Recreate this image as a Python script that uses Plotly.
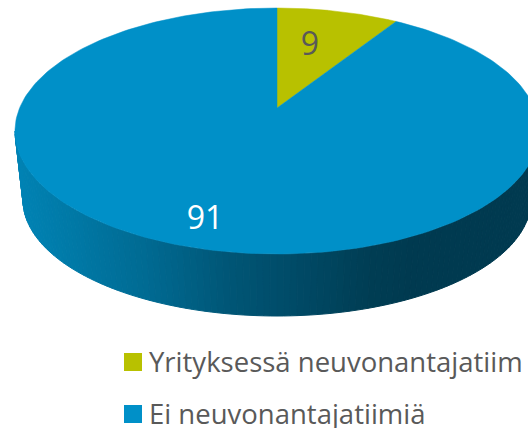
import numpy as np
import plotly.graph_objects as go

categories = ["Yrityksessä neuvonantajatiim", "Ei neuvonantajatiimiä"]
values = [9, 91]
colors = ["#B8C100", "#0090C8"]
label_colors = ["#595959", "#FFFFFF"]

W, H = 528, 428
# Perspective of the pie's top disc (pixels on the photographed page)
AX, AY = 277.0, 108.0
F, G, K = 257.4, 118.7, 0.187
# Bottom rim of the side wall
BX, BY, BRX, BRY = 277.0, 200.0, 254.0, 116.0
TY, TRX, TRY = 131.0, 262.0, 123.0


def disc(theta):
    """theta: radians clockwise from 12 o'clock."""
    u, v = np.sin(theta), np.cos(theta)
    d = 1 + K * v
    return AX + F * u / d, AY - G * v / d


def wall_color(x):
    stops_x = [15, 60, 150, 230, 300, 370, 420, 528]
    r = [0, 0, 0, 0, 0, 0, 0, 0]
    g = [132, 124, 106, 86, 74, 62, 58, 58]
    b = [182, 170, 146, 118, 102, 84, 80, 80]
    return "rgb(%d,%d,%d)" % (
        np.interp(x, stops_x, r),
        np.interp(x, stops_x, g),
        np.interp(x, stops_x, b),
    )


fig = go.Figure()

# Side wall, drawn as thin strips so the shading runs left to right
edges = np.linspace(np.pi, 0, 121)
for a, b in zip(edges[:-1], edges[1:]):
    ts = np.linspace(a, b, 4)
    tx = AX + TRX * np.cos(ts)
    ty = TY + TRY * np.sin(ts)
    bx = BX + BRX * np.cos(ts)
    by = BY + BRY * np.sin(ts)
    xs = np.r_[tx, bx[::-1], tx[0]]
    ys = np.r_[ty, by[::-1], ty[0]]
    c = wall_color(xs.mean())
    fig.add_trace(go.Scatter(x=xs, y=ys, mode="lines", fill="toself", fillcolor=c,
                             line=dict(color=c, width=1), hoverinfo="skip", showlegend=False))

# Top face: one wedge per value
total = sum(values)
start = 0.0
for name, val, col in zip(categories, values, colors):
    sweep = 2 * np.pi * val / total
    th = np.linspace(start, start + sweep, 240)
    px, py = disc(th)
    fig.add_trace(go.Scatter(x=np.r_[AX, px, AX], y=np.r_[AY, py, AY], mode="lines", fill="toself",
                             fillcolor=col, line=dict(color=col, width=0.5), name=name,
                             hoverinfo="name", showlegend=False))
    start += sweep

# Value labels
label_pos = [(310, 47), (205, 221)]
fig.add_trace(go.Scatter(x=[p[0] for p in label_pos], y=[p[1] for p in label_pos], mode="text",
                         text=[str(v) for v in values],
                         textfont=dict(family="Open Sans", size=32, color=label_colors),
                         textposition="middle center", hoverinfo="skip", showlegend=False))

# Legend
legend_x, legend_y = 133, [362, 414]
fig.add_trace(go.Scatter(x=[legend_x] * 2, y=legend_y, mode="markers",
                         marker=dict(symbol="square", size=18, color=colors, line=dict(width=0)),
                         hoverinfo="skip", showlegend=False))
for name, y in zip(categories, legend_y):
    fig.add_annotation(x=147, y=y - 1, xref="x", yref="y", text=name, showarrow=False,
                       xanchor="left", yanchor="middle", align="left",
                       font=dict(family="Open Sans", size=27.5, color="#595959"))

fig.update_layout(width=W, height=H, margin=dict(l=0, r=0, t=0, b=0),
                  paper_bgcolor="white", plot_bgcolor="white",
                  xaxis=dict(range=[0, W], visible=False, fixedrange=True),
                  yaxis=dict(range=[H, 0], visible=False, fixedrange=True))
fig.write_html("out.html", config={"displayModeBar": False},
               post_script="document.body.style.margin='0';document.documentElement.style.overflow='hidden';")
